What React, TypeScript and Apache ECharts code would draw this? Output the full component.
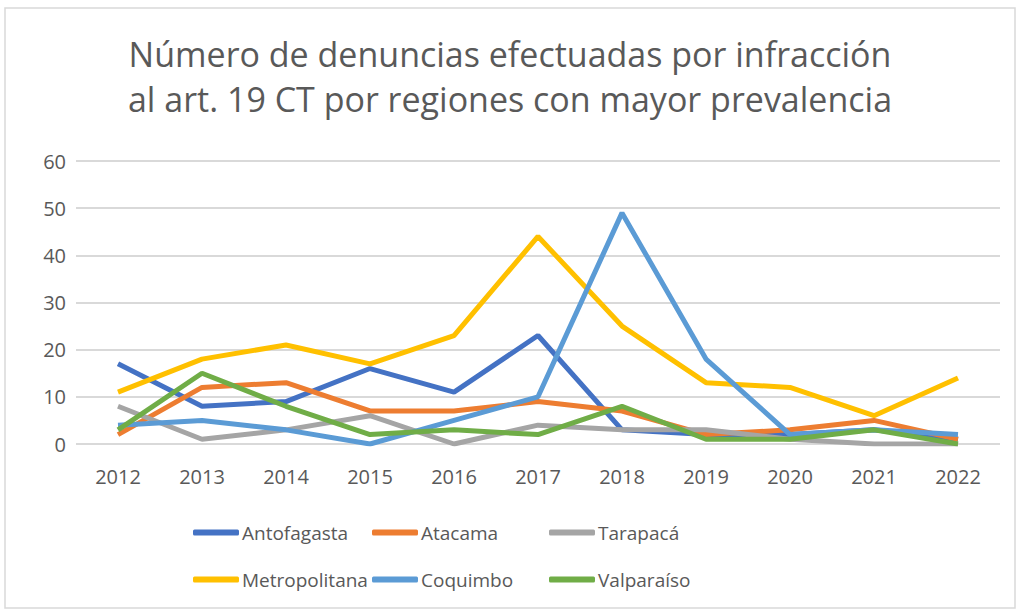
import React, { useEffect, useRef } from "react";
import * as echarts from "echarts";

const years = ["2012","2013","2014","2015","2016","2017","2018","2019","2020","2021","2022"];
const antofagasta = [17, 8, 9, 16, 11, 23, 3, 2, 2, 3, 1];
const atacama = [2, 12, 13, 7, 7, 9, 7, 2, 3, 5, 1];
const tarapaca = [8, 1, 3, 6, 0, 4, 3, 3, 1, 0, 0];
const metropolitana = [11, 18, 21, 17, 23, 44, 25, 13, 12, 6, 14];
const coquimbo = [4, 5, 3, 0, 5, 10, 49, 18, 2, 3, 2];
const valparaiso = [3, 15, 8, 2, 3, 2, 8, 1, 1, 3, 0];

const seriesDefs = [
  { name: "Antofagasta", data: antofagasta, color: "#4472C4" },
  { name: "Atacama", data: atacama, color: "#ED7D31" },
  { name: "Tarapacá", data: tarapaca, color: "#A5A5A5" },
  { name: "Metropolitana", data: metropolitana, color: "#FFC000" },
  { name: "Coquimbo", data: coquimbo, color: "#5B9BD5" },
  { name: "Valparaíso", data: valparaiso, color: "#70AD47" },
];

const legendPos = [
  { left: 193, top: 523 },
  { left: 372, top: 523 },
  { left: 549, top: 523 },
  { left: 193, top: 570 },
  { left: 372, top: 570 },
  { left: 549, top: 570 },
];

const FONT = "'Open Sans', 'Noto Sans', sans-serif";

export default function App() {
  const ref = useRef<HTMLDivElement>(null);
  useEffect(() => {
    if (!ref.current) return;
    const chart = echarts.init(ref.current, undefined, { renderer: "svg" });
    chart.setOption({
      animation: false,
      backgroundColor: "#ffffff",
      title: {
        text: "Número de denuncias efectuadas por infracción\nal art. 19 CT por regiones con mayor prevalencia",
        left: "center",
        top: 26,
        textStyle: {
          fontFamily: FONT,
          fontSize: 34,
          fontWeight: "normal",
          color: "#595959",
          lineHeight: 45,
        },
      },
      graphic: [
        {
          type: "rect",
          shape: { x: 5, y: 8, width: 1010, height: 600 },
          style: { fill: "none", stroke: "#d9d9d9", lineWidth: 1.5 },
          silent: true,
        },
      ],
      legend: seriesDefs.map((s, i) => ({
        data: [s.name],
        left: legendPos[i].left,
        top: legendPos[i].top,
        icon: "roundRect",
        itemWidth: 46,
        itemHeight: 6,
        itemGap: 0,
        padding: 0,
        textStyle: { fontFamily: FONT, fontSize: 19, color: "#595959", padding: [0, 0, 0, -2] },
      })),
      grid: { left: 76, right: 20, top: 161, bottom: 169, containLabel: false },
      xAxis: {
        type: "category",
        data: years,
        boundaryGap: true,
        axisLine: { show: false },
        axisTick: { show: false },
        axisLabel: { fontFamily: FONT, fontSize: 20, color: "#595959", margin: 22 },
      },
      yAxis: {
        type: "value",
        min: 0,
        max: 60,
        interval: 10,
        axisLine: { show: false },
        axisTick: { show: false },
        axisLabel: { fontFamily: FONT, fontSize: 20, color: "#595959", margin: 10 },
        splitLine: { lineStyle: { color: "#d9d9d9", width: 2 } },
      },
      series: seriesDefs.map((s) => ({
        name: s.name,
        type: "line",
        data: s.data,
        symbol: "none",
        color: s.color,
        lineStyle: { width: 5, color: s.color },
        emphasis: { disabled: true },
      })),
    });
    return () => chart.dispose();
  }, []);
  return <div ref={ref} style={{ width: 1020, height: 613, position: "absolute", left: 0, top: 0 }} />;
}
